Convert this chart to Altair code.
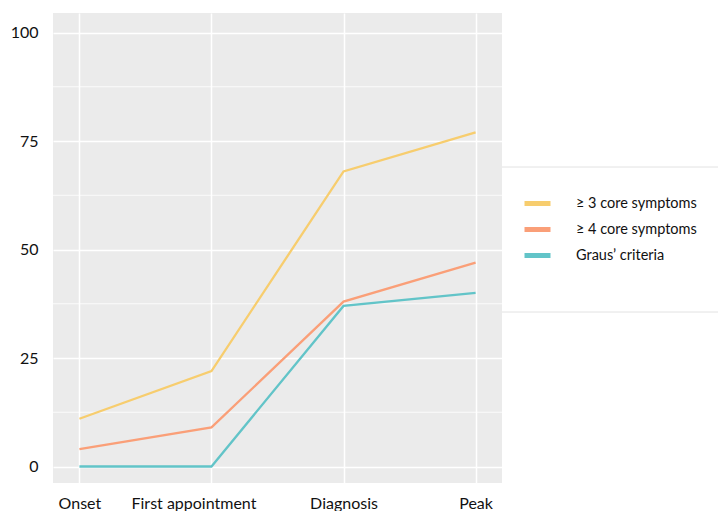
import altair as alt
import pandas as pd

categories = ["Onset", "First appointment", "Diagnosis", "Peak"]
series_names = ["≥ 3 core symptoms", "≥ 4 core symptoms", "Graus’ criteria"]
ge3 = [11, 22, 68, 77]
ge4 = [4, 9, 38, 47]
graus = [0, 0, 37, 40]
colors = ["#F7CD6E", "#FA9F78", "#62C4C8"]
y_ticks = [0, 25, 50, 75, 100]
minor_ticks = [12.5, 37.5, 62.5, 87.5]

rows = []
for name, vals in zip(series_names, [ge3, ge4, graus]):
    for c, v in zip(categories, vals):
        rows.append({"stage": c, "value": v, "series": name})
df = pd.DataFrame(rows)
minor_df = pd.DataFrame({"m": minor_ticks})

FONT = "Lato"
W, H = 449, 470

yscale = alt.Scale(domain=[-3.8, 104.5], nice=False, zero=False)
xscale = alt.Scale(domain=categories, padding=0.2)

minor = alt.Chart(minor_df).mark_rule(color="white", strokeWidth=0.8).encode(
    y=alt.Y("m:Q", scale=yscale)
)

lines = alt.Chart(df).mark_line(strokeWidth=2.3).encode(
    x=alt.X("stage:N", scale=xscale, sort=categories, title=None,
            axis=alt.Axis(labelAngle=0, labelFontSize=16, labelFont=FONT, labelColor="#111",
                          domain=False, ticks=False, labelPadding=12,
                          grid=True, gridColor="white", gridWidth=1.5,
                          labelOffset={"condition": {"test": "datum.value === 'First appointment'", "value": -18}, "value": 0})),
    y=alt.Y("value:Q", scale=yscale, title=None,
            axis=alt.Axis(values=y_ticks, labelFontSize=16, labelFont=FONT, labelColor="#111",
                          domain=False, ticks=False, labelPadding=15, minExtent=45,
                          grid=True, gridColor="white", gridWidth=1.5)),
    color=alt.Color("series:N", sort=series_names,
                    scale=alt.Scale(domain=series_names, range=colors),
                    legend=alt.Legend(title=None, orient="none", legendX=469, legendY=175,
                                      symbolType="stroke", symbolSize=676, symbolStrokeWidth=5,
                                      labelFont=FONT, labelFontSize=14.5, labelColor="#111",
                                      labelOffset=23, rowPadding=0, padding=0)),
    detail="series:N",
)

box_data = alt.Data(values=[{"k": 0}])
box = alt.Chart(box_data).mark_rect(color="white").encode(
    x=alt.value(449), x2=alt.value(665), y=alt.value(154), y2=alt.value(299)
)
top_rule = alt.Chart(box_data).mark_rule(color="#e2e2e2", strokeWidth=1).encode(
    x=alt.value(449), x2=alt.value(665), y=alt.value(154)
)
bot_rule = alt.Chart(box_data).mark_rule(color="#e2e2e2", strokeWidth=1).encode(
    x=alt.value(449), x2=alt.value(665), y=alt.value(299)
)

chart = alt.layer(minor, lines, box, top_rule, bot_rule).properties(
    width=W, height=H,
    padding={"left": 0, "top": 5, "right": 0, "bottom": 0},
).configure_view(fill="#EBEBEB", stroke=None)

chart.save("out.html", embed_options={"renderer": "svg", "actions": False})
